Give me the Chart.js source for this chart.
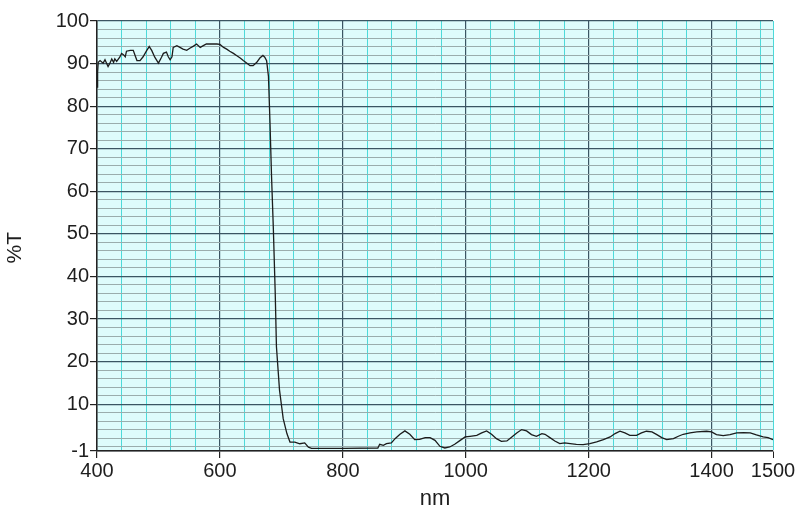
<!DOCTYPE html>
<html>
<head>
<meta charset="utf-8">
<script src="https://cdn.jsdelivr.net/npm/chart.js@4"></script>
<style>
  body { margin: 0; background: #fff; }
  #wrap { width: 800px; height: 505px; }
</style>
</head>
<body>
<div id="wrap"><canvas id="myChart"></canvas></div>
<script>
// wavelength (nm) and transmission (%T)
var wavelength = [400, 401, 402, 405, 410, 413, 418, 421, 424, 427, 429, 432, 437, 440, 443, 446, 448, 454, 459, 462,
    465, 470, 475, 481, 485, 489, 494, 500, 505, 508, 513, 516, 519, 522, 524, 530, 535, 540, 546, 551,
    557, 562, 568, 573, 578, 584, 595, 600, 606, 611, 616, 622, 627, 633, 638, 644, 649, 654, 660, 665,
    670, 673, 676, 679, 681.5, 684, 687, 690, 692, 697, 700.5, 703, 709, 714, 722, 730, 738, 744, 749, 800,
    857, 860, 866, 871, 879, 885, 893, 901, 909, 917, 925, 934, 942, 950, 958, 966, 974, 982, 991, 999,
    1007, 1018, 1026, 1034, 1042, 1050, 1058, 1067, 1075, 1083, 1091, 1099, 1107, 1115, 1124, 1129, 1137, 1145, 1153, 1161,
    1170, 1180, 1191, 1202, 1213, 1224, 1235, 1243, 1251, 1259, 1267, 1278, 1286, 1294, 1303, 1311, 1319, 1327, 1338, 1346,
    1354, 1365, 1376, 1392, 1400, 1408, 1419, 1430, 1441, 1452, 1463, 1473, 1484, 1492, 1500];
var transmission = [84.5, 88, 90.3, 90.7, 90.1, 90.9, 89.3, 90.1, 91.1, 90.3, 91.1, 90.5, 91.5, 92.4, 92.1, 91.6, 92.9, 93.1, 93.1, 91.9,
    90.7, 90.7, 91.6, 93.1, 94.0, 93.1, 91.5, 90.1, 91.5, 92.4, 92.7, 91.6, 90.9, 91.6, 93.8, 94.2, 93.8, 93.4, 93.1, 93.6,
    94.1, 94.6, 93.8, 94.2, 94.6, 94.6, 94.6, 94.5, 93.8, 93.4, 92.9, 92.4, 91.9, 91.3, 90.7, 90.1, 89.5, 89.5, 90.3, 91.3,
    91.9, 91.5, 90.7, 87, 76.1, 63.6, 51.0, 36.1, 23.5, 13.3, 9.4, 6.6, 3.1, 1.1, 1.1, 0.7, 0.9, -0.1, -0.4, -0.4,
    -0.3, 0.57, 0.34, 0.73, 0.89, 1.9, 2.93, 3.72, 2.93, 1.67, 1.75, 2.14, 2.14, 1.5, 0.1, -0.29, -0.06, 0.57, 1.5, 2.3,
    2.46, 2.69, 3.24, 3.72, 2.93, 1.9, 1.28, 1.36, 2.3, 3.24, 4.03, 3.72, 2.85, 2.46, 3.09, 2.93, 2.14, 1.36, 0.73, 0.89,
    0.73, 0.57, 0.49, 0.73, 1.12, 1.67, 2.3, 3.09, 3.64, 3.24, 2.69, 2.69, 3.24, 3.64, 3.48, 2.85, 2.14, 1.67, 1.9, 2.46,
    2.93, 3.24, 3.48, 3.64, 3.48, 2.85, 2.6, 2.85, 3.24, 3.32, 3.24, 2.77, 2.3, 2.14, 1.67];

var xTickLabels = [400, 600, 800, 1000, 1200, 1400, 1500];
var yTickLabels = [-1, 10, 20, 30, 40, 50, 60, 70, 80, 90, 100];

var majorColor = '#3b5563';
var minorH = '#9aadad';
var minorV = '#4cdada';

var plotBg = {
    id: 'plotBg',
    beforeDraw: function(chart) {
        var a = chart.chartArea, c = chart.ctx;
        c.save();
        c.fillStyle = '#defcfc';
        c.fillRect(a.left, a.top, a.right - a.left, a.bottom - a.top);
        c.restore();
    }
};

var ctx = document.getElementById('myChart').getContext('2d');
var points = wavelength.map(function(x, i) { return {x: x, y: transmission[i]}; });

new Chart(ctx, {
    type: 'line',
    data: {
        datasets: [{
            data: points,
            borderColor: '#1c1c1c',
            borderWidth: 1.3,
            pointRadius: 0,
            tension: 0
        }]
    },
    options: {
        maintainAspectRatio: false,
        responsive: true,
        animation: false,
        layout: { padding: { top: 21, right: 27, left: 0, bottom: 0 } },
        plugins: { legend: { display: false }, tooltip: { enabled: false } },
        scales: {
            x: {
                type: 'linear',
                min: 400,
                max: 1500,
                afterBuildTicks: function(scale) {
                    var t = [];
                    for (var v = 400; v < 1500; v += 40) t.push({value: v});
                    t.push({value: 1500});
                    scale.ticks = t;
                },
                afterFit: function(scale) { scale.height = 54; },
                ticks: {
                    autoSkip: false,
                    maxRotation: 0,
                    padding: 1,
                    color: '#1e1e1e',
                    font: { family: 'Liberation Sans, Arial', size: 20 },
                    callback: function(v) { return xTickLabels.indexOf(v) >= 0 ? String(v) : ''; }
                },
                grid: {
                    tickLength: 7,
                    color: function(c) {
                        var v = c.tick ? c.tick.value : 0;
                        return (v % 200 === 0) ? majorColor : minorV;
                    },
                    lineWidth: function(c) {
                        var v = c.tick ? c.tick.value : 0;
                        return (v % 200 === 0) ? 1.2 : 1;
                    },
                    tickColor: function(c) {
                        var v = c.tick ? c.tick.value : 0;
                        return xTickLabels.indexOf(v) >= 0 ? '#222' : 'rgba(0,0,0,0)';
                    }
                },
                border: { color: '#222', width: 1.5 },
                title: {
                    display: true,
                    text: 'nm',
                    color: '#1e1e1e',
                    font: { family: 'Liberation Sans, Arial', size: 22 },
                    padding: { top: 0, bottom: -7 }
                }
            },
            y: {
                min: -1,
                max: 100,
                afterBuildTicks: function(scale) {
                    var t = [{value: -1}];
                    for (var v = 0; v <= 100; v += 2) t.push({value: v});
                    scale.ticks = t;
                },
                afterFit: function(scale) { scale.width = 97; },
                ticks: {
                    autoSkip: false,
                    padding: 1,
                    color: '#1e1e1e',
                    font: { family: 'Liberation Sans, Arial', size: 20 },
                    callback: function(v) { return yTickLabels.indexOf(v) >= 0 ? String(v) : ''; }
                },
                grid: {
                    tickLength: 7,
                    color: function(c) {
                        var v = c.tick ? c.tick.value : 0;
                        return (yTickLabels.indexOf(v) >= 0) ? majorColor : minorH;
                    },
                    lineWidth: function(c) {
                        var v = c.tick ? c.tick.value : 0;
                        return (yTickLabels.indexOf(v) >= 0) ? 1.2 : 1;
                    },
                    tickColor: function(c) {
                        var v = c.tick ? c.tick.value : 0;
                        return yTickLabels.indexOf(v) >= 0 ? '#222' : 'rgba(0,0,0,0)';
                    }
                },
                border: { color: '#222', width: 1.5 },
                title: {
                    display: true,
                    text: '%T    ',
                    color: '#1e1e1e',
                    font: { family: 'Liberation Sans, Arial', size: 21 },
                    padding: { top: 3, bottom: 0 }
                }
            }
        }
    },
    plugins: [plotBg]
});
</script>
</body>
</html>
